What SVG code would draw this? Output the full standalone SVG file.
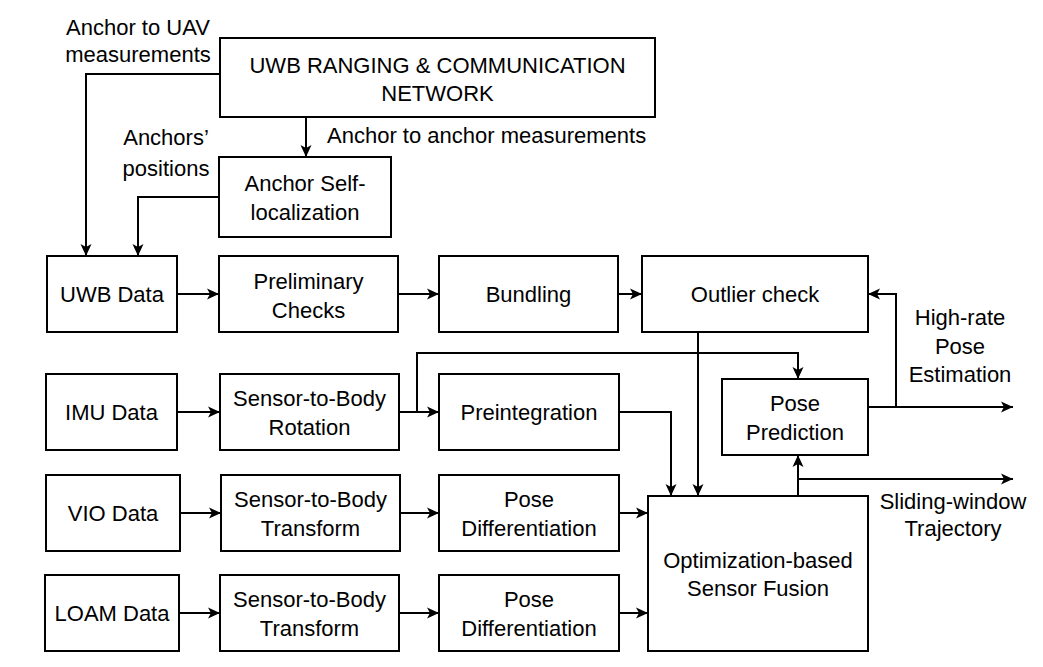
<svg xmlns="http://www.w3.org/2000/svg" width="1043" height="667" viewBox="0 0 1043 667">
<style>
.box{fill:#fff;stroke:#000;stroke-width:2}
.t{font-family:"Liberation Sans",Arial,sans-serif;font-size:22px;fill:#000;text-anchor:middle;dominant-baseline:central}
.ts{text-anchor:start}
.c{fill:none;stroke:#000;stroke-width:2}
.a{marker-end:url(#ah)}
</style>
<defs>
<marker id="ah" markerUnits="userSpaceOnUse" markerWidth="14" markerHeight="12" refX="12" refY="6" orient="auto">
<path d="M0,0.5 L12,6 L0,11.5 L3,6 z" fill="#000"/>
</marker>
</defs>
<rect width="1043" height="667" fill="#fff"/>
<g id="connectors">
<polyline class="c a" points="220,74 86,74 86,256"/>
<polyline class="c a" points="306,117 306,157"/>
<polyline class="c a" points="219,197 138,197 138,256"/>
<polyline class="c a" points="177,294 219,294"/>
<polyline class="c a" points="398,294 439,294"/>
<polyline class="c a" points="618,294 642,294"/>
<polyline class="c a" points="177,412 220,412"/>
<polyline class="c a" points="399,412 439,412"/>
<polyline class="c a" points="417,412 417,353 798,353 798,379"/>
<polyline class="c a" points="619,412 671,412 671,496"/>
<polyline class="c a" points="698,332 698,496"/>
<polyline class="c a" points="180,513 221,513"/>
<polyline class="c a" points="400,513 439,513"/>
<polyline class="c a" points="619,513 648,513"/>
<polyline class="c a" points="179,613 220,613"/>
<polyline class="c a" points="399,613 439,613"/>
<polyline class="c a" points="619,613 648,613"/>
<polyline class="c a" points="868,407 1013,407"/>
<polyline class="c a" points="896,407 896,294 868,294"/>
<polyline class="c a" points="798,496 798,455"/>
<polyline class="c a" points="798,479 1013,479"/>
</g>
<g id="labels">
<text class="t" x="138" y="27">Anchor to UAV</text>
<text class="t" x="138" y="54">measurements</text>
<text class="t" x="166" y="137">Anchors’</text>
<text class="t" x="166" y="168">positions</text>
<text class="t ts" x="327" y="135">Anchor to anchor measurements</text>
<text class="t" x="960" y="317">High-rate</text>
<text class="t" x="960" y="346">Pose</text>
<text class="t" x="960" y="374">Estimation</text>
<text class="t" x="953" y="501">Sliding-window</text>
<text class="t" x="953" y="528">Trajectory</text>
</g>
<g id="uwb-network"><rect class="box" x="220" y="38" width="435" height="79"/><text class="t" x="437.5" y="65">UWB RANGING &amp; COMMUNICATION</text><text class="t" x="437.5" y="93">NETWORK</text></g>
<g id="anchor-self"><rect class="box" x="219" y="157" width="172" height="80"/><text class="t" x="305" y="183">Anchor Self-</text><text class="t" x="305" y="212">localization</text></g>
<g id="uwb-data"><rect class="box" x="47" y="256" width="130" height="76"/><text class="t" x="112" y="294">UWB Data</text></g>
<g id="prelim"><rect class="box" x="219" y="256" width="179" height="76"/><text class="t" x="308.5" y="281">Preliminary</text><text class="t" x="308.5" y="310">Checks</text></g>
<g id="bundling"><rect class="box" x="439" y="256" width="179" height="76"/><text class="t" x="528.5" y="294">Bundling</text></g>
<g id="outlier"><rect class="box" x="642" y="256" width="226" height="76"/><text class="t" x="755" y="294">Outlier check</text></g>
<g id="imu-data"><rect class="box" x="46" y="374" width="131" height="76"/><text class="t" x="111.5" y="412">IMU Data</text></g>
<g id="stb-rot"><rect class="box" x="220" y="374" width="179" height="76"/><text class="t" x="309.5" y="398">Sensor-to-Body</text><text class="t" x="309.5" y="427">Rotation</text></g>
<g id="preint"><rect class="box" x="439" y="374" width="180" height="76"/><text class="t" x="529" y="412">Preintegration</text></g>
<g id="pose-pred"><rect class="box" x="722" y="379" width="146" height="76"/><text class="t" x="795" y="403">Pose</text><text class="t" x="795" y="432">Prediction</text></g>
<g id="vio-data"><rect class="box" x="46" y="475" width="134" height="76"/><text class="t" x="113" y="513">VIO Data</text></g>
<g id="stb-vio"><rect class="box" x="221" y="475" width="179" height="76"/><text class="t" x="310.5" y="499">Sensor-to-Body</text><text class="t" x="310.5" y="528">Transform</text></g>
<g id="pd-vio"><rect class="box" x="439" y="475" width="180" height="76"/><text class="t" x="529" y="499">Pose</text><text class="t" x="529" y="528">Differentiation</text></g>
<g id="loam-data"><rect class="box" x="45" y="575" width="134" height="76"/><text class="t" x="112" y="613">LOAM Data</text></g>
<g id="stb-loam"><rect class="box" x="220" y="575" width="179" height="76"/><text class="t" x="309.5" y="599">Sensor-to-Body</text><text class="t" x="309.5" y="628">Transform</text></g>
<g id="pd-loam"><rect class="box" x="439" y="575" width="180" height="76"/><text class="t" x="529" y="599">Pose</text><text class="t" x="529" y="628">Differentiation</text></g>
<g id="opt"><rect class="box" x="648" y="496" width="220" height="155"/><text class="t" x="758" y="560">Optimization-based</text><text class="t" x="758" y="588">Sensor Fusion</text></g>
</svg>
